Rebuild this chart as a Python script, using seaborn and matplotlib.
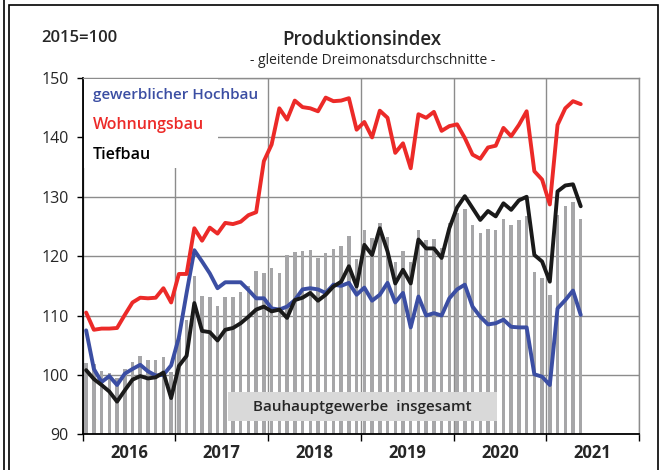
import numpy as np
import pandas as pd
import matplotlib
matplotlib.use("Agg")
import matplotlib.pyplot as plt
from matplotlib.patches import Rectangle
from matplotlib.lines import Line2D
import seaborn as sns

# Monatsindex: 0 = Januar 2016 ... 64 = Mai 2021
monat = list(range(65))
jahre = ["2016", "2017", "2018", "2019", "2020", "2021"]
y_ticks = [90, 100, 110, 120, 130, 140, 150]

hochbau = [107.5, 101.0, 98.8, 99.8, 98.3, 100.2, 101.0, 101.7, 100.6, 99.9, 100.0, 101.6, 106.3, 113.8,
           121.0, 119.1, 117.1, 114.6, 115.6, 115.6, 115.6, 114.3, 112.9, 112.9, 111.2, 111.0, 111.5, 112.6,
           114.4, 114.6, 114.4, 113.8, 115.2, 115.0, 115.5, 113.5, 114.7, 112.5, 113.5, 115.5, 112.2, 113.8,
           108.0, 113.2, 110.0, 110.4, 110.0, 112.9, 114.4, 115.2, 111.5, 109.8, 108.5, 108.7, 109.3, 108.1,
           108.0, 108.0, 100.1, 99.7, 98.3, 111.2, 112.6, 114.2, 110.1]

wohnungsbau = [110.5, 107.6, 107.8, 107.8, 107.9, 110.1, 112.2, 113.0, 112.9, 113.0, 114.6, 112.2, 117.0, 117.0,
               124.7, 122.6, 124.8, 123.8, 125.6, 125.4, 125.8, 126.9, 127.4, 136.0, 138.8, 144.9, 143.0, 146.2,
               145.1, 144.9, 144.4, 146.7, 146.1, 146.2, 146.6, 141.3, 142.6, 140.0, 144.5, 143.3, 137.4, 139.0,
               134.8, 143.9, 143.3, 144.3, 141.1, 141.9, 142.2, 139.9, 137.1, 136.4, 138.3, 138.6, 141.6, 140.2,
               142.1, 144.4, 134.3, 132.9, 128.7, 142.1, 144.9, 146.1, 145.6]

tiefbau = [100.8, 99.3, 98.3, 97.2, 95.5, 97.4, 99.2, 99.8, 99.4, 99.6, 100.4, 96.1, 101.5, 103.2,
           112.1, 107.4, 107.2, 105.8, 107.6, 107.9, 108.7, 109.8, 111.0, 111.5, 110.7, 111.0, 109.6, 112.6,
           113.0, 113.8, 112.5, 113.5, 114.9, 115.7, 118.3, 114.9, 121.9, 120.2, 124.7, 120.8, 115.4, 117.7,
           115.4, 122.8, 121.3, 121.3, 119.7, 124.7, 128.2, 130.1, 128.1, 126.1, 127.6, 126.7, 128.9, 127.8,
           129.4, 130.0, 120.2, 119.1, 115.7, 130.9, 131.9, 132.1, 128.4]

insgesamt = [102.0, 101.8, 100.6, 100.3, 99.5, 101.0, 102.2, 103.2, 102.5, 102.5, 103.0, 100.5, 106.2, 109.3,
             116.6, 113.3, 113.2, 111.6, 113.2, 113.2, 113.9, 114.9, 117.5, 117.1, 118.0, 117.1, 120.2, 120.7,
             120.8, 121.0, 119.7, 120.5, 121.2, 121.7, 123.4, 119.5, 124.4, 123.0, 125.6, 123.2, 119.0, 120.8,
             119.0, 124.4, 122.8, 122.9, 121.4, 125.5, 127.2, 128.0, 125.3, 123.9, 124.6, 124.4, 126.3, 125.3,
             126.1, 126.8, 117.3, 116.4, 113.5, 127.0, 128.5, 129.2, 126.3]

df = pd.DataFrame({"monat": monat, "hochbau": hochbau, "wohnungsbau": wohnungsbau,
                   "tiefbau": tiefbau, "insgesamt": insgesamt})

sns.set_style("white")
plt.rcParams["font.family"] = ["Open Sans", "DejaVu Sans"]

fig = plt.figure(figsize=(6.72, 4.70), dpi=100)
ax = fig.add_axes([0.123, 0.076, 0.828, 0.758])
ax.set_axisbelow(True)

sns.barplot(data=df, x="monat", y="insgesamt", native_scale=True, width=0.45,
            color="#a6a6a8", saturation=1, linewidth=0, ax=ax, zorder=2)

sns.lineplot(data=df, x="monat", y="hochbau", color="#3b4ea3", lw=2.8, ax=ax, zorder=4)
sns.lineplot(data=df, x="monat", y="wohnungsbau", color="#ec2a28", lw=2.8, ax=ax, zorder=4)
sns.lineplot(data=df, x="monat", y="tiefbau", color="#1a1a1a", lw=2.8, ax=ax, zorder=4)

ax.set_xlim(-0.45, 71.55)
ax.set_ylim(90, 150)
ax.set_yticks(y_ticks)
ax.set_yticklabels([str(t) for t in y_ticks], fontsize=11.5)
ax.set_xticks([-0.45 + 12 * k for k in range(7)])
ax.set_xticklabels([])
ax.set_xticks([5.55 + 12 * k for k in range(6)], minor=True)
ax.set_xticklabels(jahre, minor=True, fontsize=12, fontweight="bold")
ax.tick_params(axis="x", which="major", direction="out", length=5, width=1, color="black", bottom=True)
ax.tick_params(axis="x", which="minor", length=0, pad=7)
ax.tick_params(axis="y", direction="out", length=4, width=1, color="black", left=True, pad=6)
ax.set_xlabel("")
ax.set_ylabel("")

ax.grid(True, which="major", color="#8c8c8c", lw=1)
for s in ["top", "right"]:
    ax.spines[s].set_color("#8c8c8c")
    ax.spines[s].set_linewidth(1)
for s in ["left", "bottom"]:
    ax.spines[s].set_color("black")
    ax.spines[s].set_linewidth(1.3)

# Legende als Textfeld oben links
ax.add_patch(Rectangle((0.003, 0.747), 0.24, 0.251, transform=ax.transAxes,
                       facecolor="white", edgecolor="none", zorder=3))
ax.text(0.0185, 0.952, "gewerblicher Hochbau", transform=ax.transAxes, color="#3b4ea3",
        fontsize=11, fontweight="semibold", va="center", zorder=6)
ax.text(0.0185, 0.868, "Wohnungsbau", transform=ax.transAxes, color="#ec2a28",
        fontsize=11.5, fontweight="semibold", va="center", zorder=6)
ax.text(0.0185, 0.784, "Tiefbau", transform=ax.transAxes, color="black",
        fontsize=11.5, fontweight="semibold", va="center", zorder=6)

# Kasten "Bauhauptgewerbe insgesamt"
ax.add_patch(Rectangle((18.35, 92.2), 34.8, 4.9, facecolor="#d9d9d9", edgecolor="none", zorder=5))
ax.text(35.75, 94.65, "Bauhauptgewerbe  insgesamt", ha="center", va="center",
        fontsize=11, fontweight="semibold", zorder=6)

fig.text(0.539, 0.915, "Produktionsindex", ha="center", va="center", fontsize=13.5, fontweight="semibold")
fig.text(0.554, 0.872, "- gleitende Dreimonatsdurchschnitte -", ha="center", va="center", fontsize=10)
fig.text(0.062, 0.919, "2015=100", ha="left", va="center", fontsize=12, fontweight="semibold")

fig.add_artist(Rectangle((0.0135, -0.02), 0.965, 1.009, transform=fig.transFigure,
                         fill=False, edgecolor="black", lw=1.2))
fig.add_artist(Line2D([0.006, 0.006], [0, 1], transform=fig.transFigure, color="black", lw=1.2))

fig.savefig("out.png", dpi=100)
